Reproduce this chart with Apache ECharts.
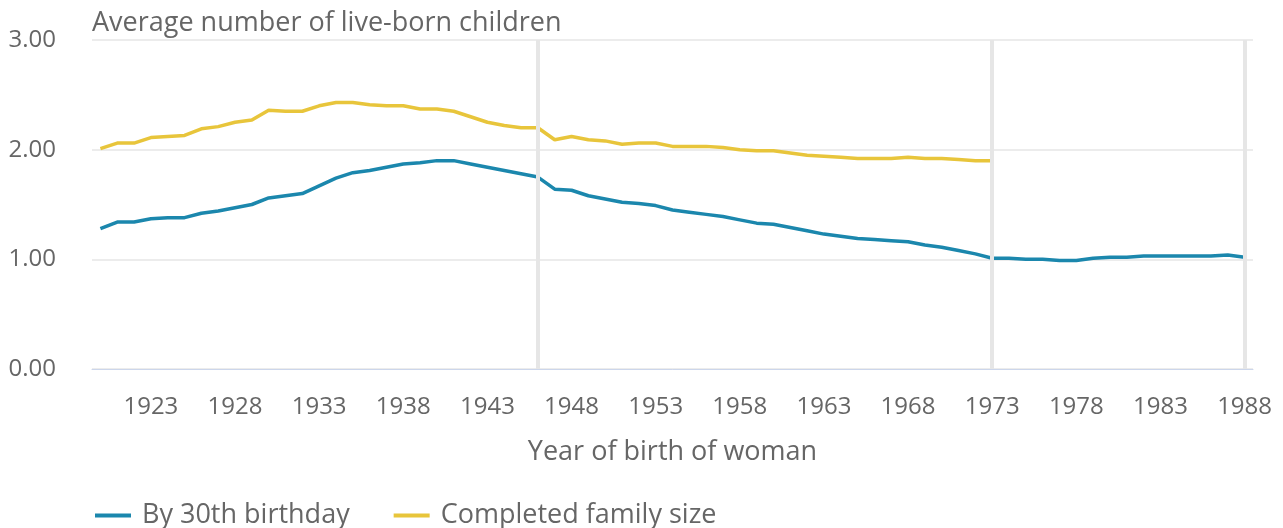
<!DOCTYPE html>
<html>
<head>
<meta charset="utf-8">
<script src="https://cdn.jsdelivr.net/npm/echarts@6/dist/echarts.min.js"></script>
<style>html,body{margin:0;padding:0;background:#fff}#c{width:1283px;height:528px}</style>
</head>
<body>
<div id="c"></div>
<script>
const years = [];
for (let y = 1920; y <= 1988; y++) years.push(String(y));

const by30 = [
  1.28, 1.34, 1.34, 1.37, 1.38, 1.38, 1.42, 1.44, 1.47, 1.50,
  1.56, 1.58, 1.60, 1.67, 1.74, 1.79, 1.81, 1.84, 1.87, 1.88,
  1.90, 1.90, 1.87, 1.84, 1.81, 1.78, 1.75, 1.64, 1.63, 1.58,
  1.55, 1.52, 1.51, 1.49, 1.45, 1.43, 1.41, 1.39, 1.36, 1.33,
  1.32, 1.29, 1.26, 1.23, 1.21, 1.19, 1.18, 1.17, 1.16, 1.13,
  1.11, 1.08, 1.05, 1.01, 1.01, 1.00, 1.00, 0.99, 0.99, 1.01,
  1.02, 1.02, 1.03, 1.03, 1.03, 1.03, 1.03, 1.04, 1.02
];

const completed = [
  2.01, 2.06, 2.06, 2.11, 2.12, 2.13, 2.19, 2.21, 2.25, 2.27,
  2.36, 2.35, 2.35, 2.40, 2.43, 2.43, 2.41, 2.40, 2.40, 2.37,
  2.37, 2.35, 2.30, 2.25, 2.22, 2.20, 2.20, 2.09, 2.12, 2.09,
  2.08, 2.05, 2.06, 2.06, 2.03, 2.03, 2.03, 2.02, 2.00, 1.99,
  1.99, 1.97, 1.95, 1.94, 1.93, 1.92, 1.92, 1.92, 1.93, 1.92,
  1.92, 1.91, 1.90, 1.90
];

const yTicks = [0, 1, 2, 3];
const markerYears = ['1946', '1973', '1988'];
const seriesNames = ['By 30th birthday', 'Completed family size'];
const titleText = 'Average number of live-born children';
const xAxisTitle = 'Year of birth of woman';

const txt = '#666666';
const font = '"Open Sans", sans-serif';

const chart = echarts.init(document.getElementById('c'), null, {renderer: 'canvas'});
chart.setOption({
  animation: false,
  backgroundColor: '#ffffff',
  title: {
    text: titleText,
    left: 87,
    top: 5,
    textStyle: {color: txt, fontFamily: font, fontSize: 27, fontWeight: 'normal'}
  },
  grid: {left: 92, right: 30, top: 40, bottom: 159, containLabel: false},
  legend: {
    data: seriesNames,
    left: 90,
    top: 497,
    icon: 'rect',
    itemWidth: 36,
    itemHeight: 4,
    itemGap: 44,
    textStyle: {color: txt, fontFamily: font, fontSize: 27, padding: [0, 0, 0, 6]}
  },
  xAxis: {
    type: 'category',
    data: years,
    boundaryGap: true,
    name: xAxisTitle,
    nameLocation: 'middle',
    nameGap: 70,
    nameTextStyle: {color: txt, fontFamily: font, fontSize: 27},
    axisLine: {lineStyle: {color: '#ccd6eb', width: 1}},
    axisTick: {
      alignWithLabel: true,
      length: 11,
      lineStyle: {color: '#ccd6eb'},
      interval: (i) => (i - 3) % 5 === 0
    },
    axisLabel: {
      color: txt, fontFamily: font, fontSize: 24, margin: 26,
      interval: (i) => (i - 3) % 5 === 0
    },
    splitLine: {show: false}
  },
  yAxis: {
    type: 'value',
    min: yTicks[0],
    max: yTicks[yTicks.length - 1],
    interval: 1,
    axisLine: {show: false},
    axisTick: {show: false},
    axisLabel: {
      color: txt, fontFamily: font, fontSize: 24, margin: 36,
      formatter: (v) => v.toFixed(2)
    },
    splitLine: {lineStyle: {color: '#e6e6e6', width: 1.5}}
  },
  series: [
    {
      name: 'markers',
      type: 'line',
      data: [],
      z: 1,
      silent: true,
      markLine: {
        symbol: 'none',
        silent: true,
        label: {show: false},
        lineStyle: {color: '#e6e6e6', width: 4, type: 'solid'},
        data: markerYears.map(y => ({xAxis: y}))
      }
    },
    {
      name: seriesNames[0],
      type: 'line',
      data: by30,
      z: 3,
      symbol: 'none',
      lineStyle: {color: '#1b87ad', width: 3.5},
      itemStyle: {color: '#1b87ad'}
    },
    {
      name: seriesNames[1],
      type: 'line',
      data: completed,
      z: 3,
      symbol: 'none',
      lineStyle: {color: '#e8c53b', width: 3.5},
      itemStyle: {color: '#e8c53b'}
    }
  ]
});
</script>
</body>
</html>
